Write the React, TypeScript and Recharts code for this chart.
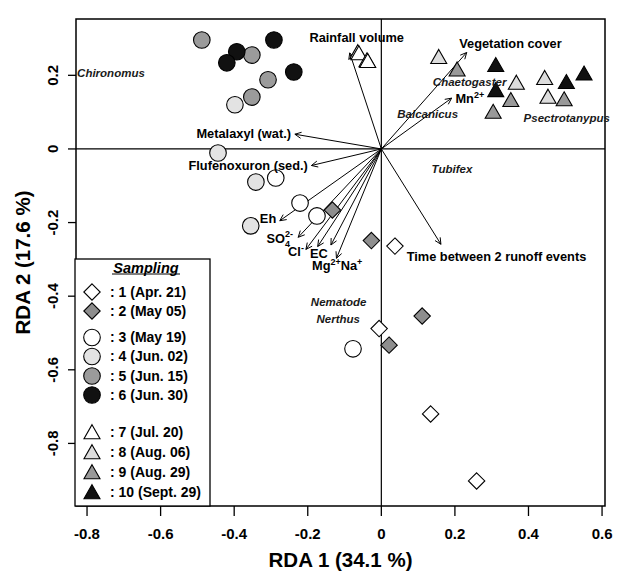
import React from 'react';
import { ScatterChart, Scatter, XAxis, YAxis, ReferenceLine, ReferenceArea, Label } from 'recharts';

const FONT = '"Liberation Sans", Arial, Helvetica, sans-serif';

// sample scores (RDA 1, RDA 2), one list per sampling date
const apr21 = [{ x: 0.037, y: -0.264 }, { x: -0.006, y: -0.488 }, { x: 0.134, y: -0.72 }, { x: 0.259, y: -0.902 }];
const may05 = [{ x: -0.133, y: -0.166 }, { x: -0.027, y: -0.249 }, { x: 0.111, y: -0.454 }, { x: 0.021, y: -0.533 }];
const may19 = [{ x: -0.287, y: -0.079 }, { x: -0.221, y: -0.147 }, { x: -0.175, y: -0.182 }, { x: -0.077, y: -0.543 }];
const jun02 = [{ x: -0.398, y: 0.12 }, { x: -0.444, y: -0.011 }, { x: -0.341, y: -0.09 }, { x: -0.355, y: -0.209 }];
const jun15 = [{ x: -0.488, y: 0.296 }, { x: -0.352, y: 0.255 }, { x: -0.308, y: 0.188 }, { x: -0.352, y: 0.141 }];
const jun30 = [{ x: -0.292, y: 0.296 }, { x: -0.393, y: 0.264 }, { x: -0.42, y: 0.234 }, { x: -0.238, y: 0.209 }];
const jul20 = [{ x: -0.064, y: 0.258 }, { x: -0.061, y: 0.255 }, { x: -0.039, y: 0.236 }, { x: -0.037, y: 0.234 }];
const aug06 = [{ x: 0.156, y: 0.245 }, { x: 0.367, y: 0.175 }, { x: 0.444, y: 0.188 }, { x: 0.453, y: 0.137 }];
const aug29 = [{ x: 0.206, y: 0.211 }, { x: 0.352, y: 0.128 }, { x: 0.304, y: 0.096 }, { x: 0.497, y: 0.13 }];
const sep29 = [{ x: 0.311, y: 0.223 }, { x: 0.311, y: 0.155 }, { x: 0.503, y: 0.177 }, { x: 0.551, y: 0.2 }];

const samplings = [apr21, may05, may19, jun02, jun15, jun30, jul20, aug06, aug29, sep29];
const samplingLabels = [
  ': 1 (Apr. 21)', ': 2 (May 05)', ': 3 (May 19)', ': 4 (Jun. 02)', ': 5 (Jun. 15)',
  ': 6 (Jun. 30)', ': 7 (Jul. 20)', ': 8 (Aug. 06)', ': 9 (Aug. 29)', ': 10 (Sept. 29)',
];

// environmental vectors (arrow tips)
const envX = [-0.086, 0.232, 0.191, -0.235, -0.19, -0.276, -0.226, -0.205, -0.173, -0.137, -0.122, 0.162];
const envY = [0.261, 0.262, 0.138, 0.04, -0.045, -0.195, -0.24, -0.273, -0.265, -0.261, -0.297, -0.259];

// variable names and where they sit
const envNames = ['Rainfall volume', 'Vegetation cover', 'Mn2+', 'Metalaxyl (wat.)', 'Flufenoxuron (sed.)', 'Eh', 'SO42-', 'Cl-', 'EC', 'Mg2+Na+', 'Time between 2 runoff events'];
const envLabelX = [-0.067, 0.351, 0.2405, -0.374, -0.362, -0.308, -0.276, -0.232, -0.17, -0.12, 0.313];
const envLabelY = [0.302, 0.287, 0.138, 0.043, -0.045, -0.19, -0.243, -0.279, -0.283, -0.317, -0.291];

// taxa
const speciesNames = ['Chironomus', 'Chaetogaster', 'Balcanicus', 'Psectrotanypus', 'Tubifex', 'Nematode', 'Nerthus'];
const speciesX = [-0.735, 0.24, 0.126, 0.504, 0.192, -0.116, -0.117];
const speciesY = [0.206, 0.183, 0.095, 0.085, -0.055, -0.417, -0.462];

const xTicks = [-0.8, -0.6, -0.4, -0.2, 0, 0.2, 0.4, 0.6];
const yTicks = [-0.8, -0.6, -0.4, -0.2, 0, 0.2];
const xDomain = [-0.83, 0.608];
const yDomain = [-0.97, 0.353];

const groupStyle = [
  { kind: 'diamond', fill: '#ffffff' },
  { kind: 'diamond', fill: '#8e8e8e' },
  { kind: 'circle', fill: '#ffffff' },
  { kind: 'circle', fill: '#e3e3e3' },
  { kind: 'circle', fill: '#9b9b9b' },
  { kind: 'circle', fill: '#111111' },
  { kind: 'triangle', fill: '#ffffff' },
  { kind: 'triangle', fill: '#dddddd' },
  { kind: 'triangle', fill: '#999999' },
  { kind: 'triangle', fill: '#111111' },
];

const labelData = [
  ...envNames.map((name, i) => ({ x: envLabelX[i], y: envLabelY[i], name, taxon: false })),
  ...speciesNames.map((name, i) => ({ x: speciesX[i], y: speciesY[i], name, taxon: true })),
];

function Marker({ kind, fill, cx, cy }: any) {
  const common = { fill, stroke: '#000', strokeWidth: 1.1 };
  if (kind === 'circle') return <circle cx={cx} cy={cy} r={8.3} {...common} />;
  if (kind === 'diamond') {
    const d = 8.2;
    return <path d={`M${cx},${cy - d}L${cx + d},${cy}L${cx},${cy + d}L${cx - d},${cy}Z`} {...common} />;
  }
  return <path d={`M${cx},${cy - 9.3}L${cx + 8},${cy + 4.7}L${cx - 8},${cy + 4.7}Z`} {...common} />;
}

function richText(name: string) {
  switch (name) {
    case 'Mn2+':
      return <><tspan>Mn</tspan><tspan dy={-5} fontSize={9}>2+</tspan></>;
    case 'SO42-':
      return <><tspan>SO</tspan><tspan dy={4} fontSize={9}>4</tspan><tspan dx={-5} dy={-10} fontSize={9}>2-</tspan></>;
    case 'Cl-':
      return <><tspan>Cl</tspan><tspan dy={-5} fontSize={9}>-</tspan></>;
    case 'Mg2+Na+':
      return <><tspan>Mg</tspan><tspan dy={-5} fontSize={9}>2+</tspan><tspan dy={5}>Na</tspan><tspan dy={-5} fontSize={9}>+</tspan></>;
    default:
      return name;
  }
}

const TextMark = (props: any) => {
  const { cx, cy, payload } = props;
  return (
    <text
      x={cx} y={cy} dy="0.35em" textAnchor="middle" fontFamily={FONT} fontWeight="bold"
      fontSize={payload.taxon ? 11.5 : 12.8} fontStyle={payload.taxon ? 'italic' : 'normal'}
      fill={payload.taxon ? '#1a1a1a' : '#000'}
    >
      {richText(payload.name)}
    </text>
  );
};

const Arrow = (props: any) => {
  const { x1, y1, x2, y2 } = props;
  const a = Math.atan2(y2 - y1, x2 - x1);
  const len = 7;
  const spread = 0.45;
  const p1 = [x2 - len * Math.cos(a - spread), y2 - len * Math.sin(a - spread)];
  const p2 = [x2 - len * Math.cos(a + spread), y2 - len * Math.sin(a + spread)];
  return (
    <g stroke="#000" strokeWidth={1} fill="none">
      <line x1={x1} y1={y1} x2={x2} y2={y2} />
      <path d={`M${p1[0]},${p1[1]}L${x2},${y2}L${p2[0]},${p2[1]}`} />
    </g>
  );
};

const XTick = (props: any) => {
  const { x, y, payload } = props;
  return (
    <text x={x} y={y + 18} dy="0.35em" textAnchor="middle" fontFamily={FONT} fontWeight="bold" fontSize={15} fill="#000">
      {String(payload.value)}
    </text>
  );
};

const YTick = (props: any) => {
  const { x, y, payload } = props;
  return (
    <text x={x} y={y} dy="0.35em" transform={`rotate(-90 ${x} ${y})`} textAnchor="middle" fontFamily={FONT} fontWeight="bold" fontSize={15} fill="#000">
      {String(payload.value)}
    </text>
  );
};

const rowY = [34, 53, 79.5, 98.5, 118, 137, 174, 194, 214, 234];

function SamplingLegend() {
  return (
    <svg width={137} height={249} style={{ position: 'absolute', left: 74, top: 258 }}>
      <rect x={1} y={1} width={135} height={247} fill="#fff" stroke="#000" strokeWidth={1.3} />
      <text x={72} y={10} dy="0.35em" textAnchor="middle" fontFamily={FONT} fontWeight="bold" fontStyle="italic" fontSize={14.5}>
        Sampling
      </text>
      <line x1={38} x2={106} y1={16} y2={16} stroke="#000" strokeWidth={1.2} />
      {samplingLabels.map((lab, i) => (
        <g key={lab}>
          <Marker kind={groupStyle[i].kind} fill={groupStyle[i].fill} cx={18} cy={rowY[i] + (groupStyle[i].kind === 'triangle' ? 2 : 0)} />
          <text x={36} y={rowY[i]} dy="0.35em" fontFamily={FONT} fontWeight="bold" fontSize={14}>{lab}</text>
        </g>
      ))}
    </svg>
  );
}

export default function App() {
  return (
    <div style={{ position: 'absolute', left: 0, top: 0, width: 620, height: 572, background: '#fff' }}>
      <ScatterChart width={620} height={572} margin={{ top: 19, right: 15, bottom: 0, left: 0 }}>
        <XAxis
          type="number" dataKey="x" domain={xDomain} ticks={xTicks} interval={0}
          height={66} tickSize={10} tickMargin={0} axisLine={false}
          tickLine={{ stroke: '#000', strokeWidth: 1.3 }} tick={XTick}
        >
          <Label
            content={(p: any) => (
              <text x={p.viewBox.x + p.viewBox.width / 2} y={p.viewBox.y + 61} textAnchor="middle" fontFamily={FONT} fontWeight="bold" fontSize={20.5}>
                RDA 1 (34.1 %)
              </text>
            )}
          />
        </XAxis>
        <YAxis
          type="number" dataKey="y" domain={yDomain} ticks={yTicks} interval={0}
          width={76} tickSize={8} tickMargin={15} axisLine={false}
          tickLine={{ stroke: '#000', strokeWidth: 1.3 }} tick={YTick}
        >
          <Label
            content={(p: any) => {
              const cx = 23;
              const cy = p.viewBox.y + p.viewBox.height / 2;
              return (
                <text x={cx} y={cy} dy="0.35em" transform={`rotate(-90 ${cx} ${cy})`} textAnchor="middle" fontFamily={FONT} fontWeight="bold" fontSize={20.5}>
                  RDA 2 (17.6 %)
                </text>
              );
            }}
          />
        </YAxis>
        <ReferenceArea
          x1={xDomain[0]} x2={xDomain[1]} y1={yDomain[0]} y2={yDomain[1]}
          fill="#fff" fillOpacity={0} stroke="#000" strokeWidth={1.5} strokeOpacity={1} ifOverflow="visible"
        />
        <ReferenceLine x={0} stroke="#000" strokeWidth={1.2} />
        <ReferenceLine y={0} stroke="#000" strokeWidth={1.2} />
        {envX.map((ex, i) => (
          <ReferenceLine key={`env-${i}`} segment={[{ x: 0, y: 0 }, { x: ex, y: envY[i] }]} shape={Arrow} ifOverflow="visible" />
        ))}
        {samplings.map((pts, i) => (
          <Scatter
            key={`s-${i}`} data={pts} isAnimationActive={false}
            shape={(p: any) => <Marker kind={groupStyle[i].kind} fill={groupStyle[i].fill} cx={p.cx} cy={p.cy} />}
          />
        ))}
        <Scatter data={labelData} isAnimationActive={false} shape={TextMark} />
      </ScatterChart>
      <SamplingLegend />
    </div>
  );
}
